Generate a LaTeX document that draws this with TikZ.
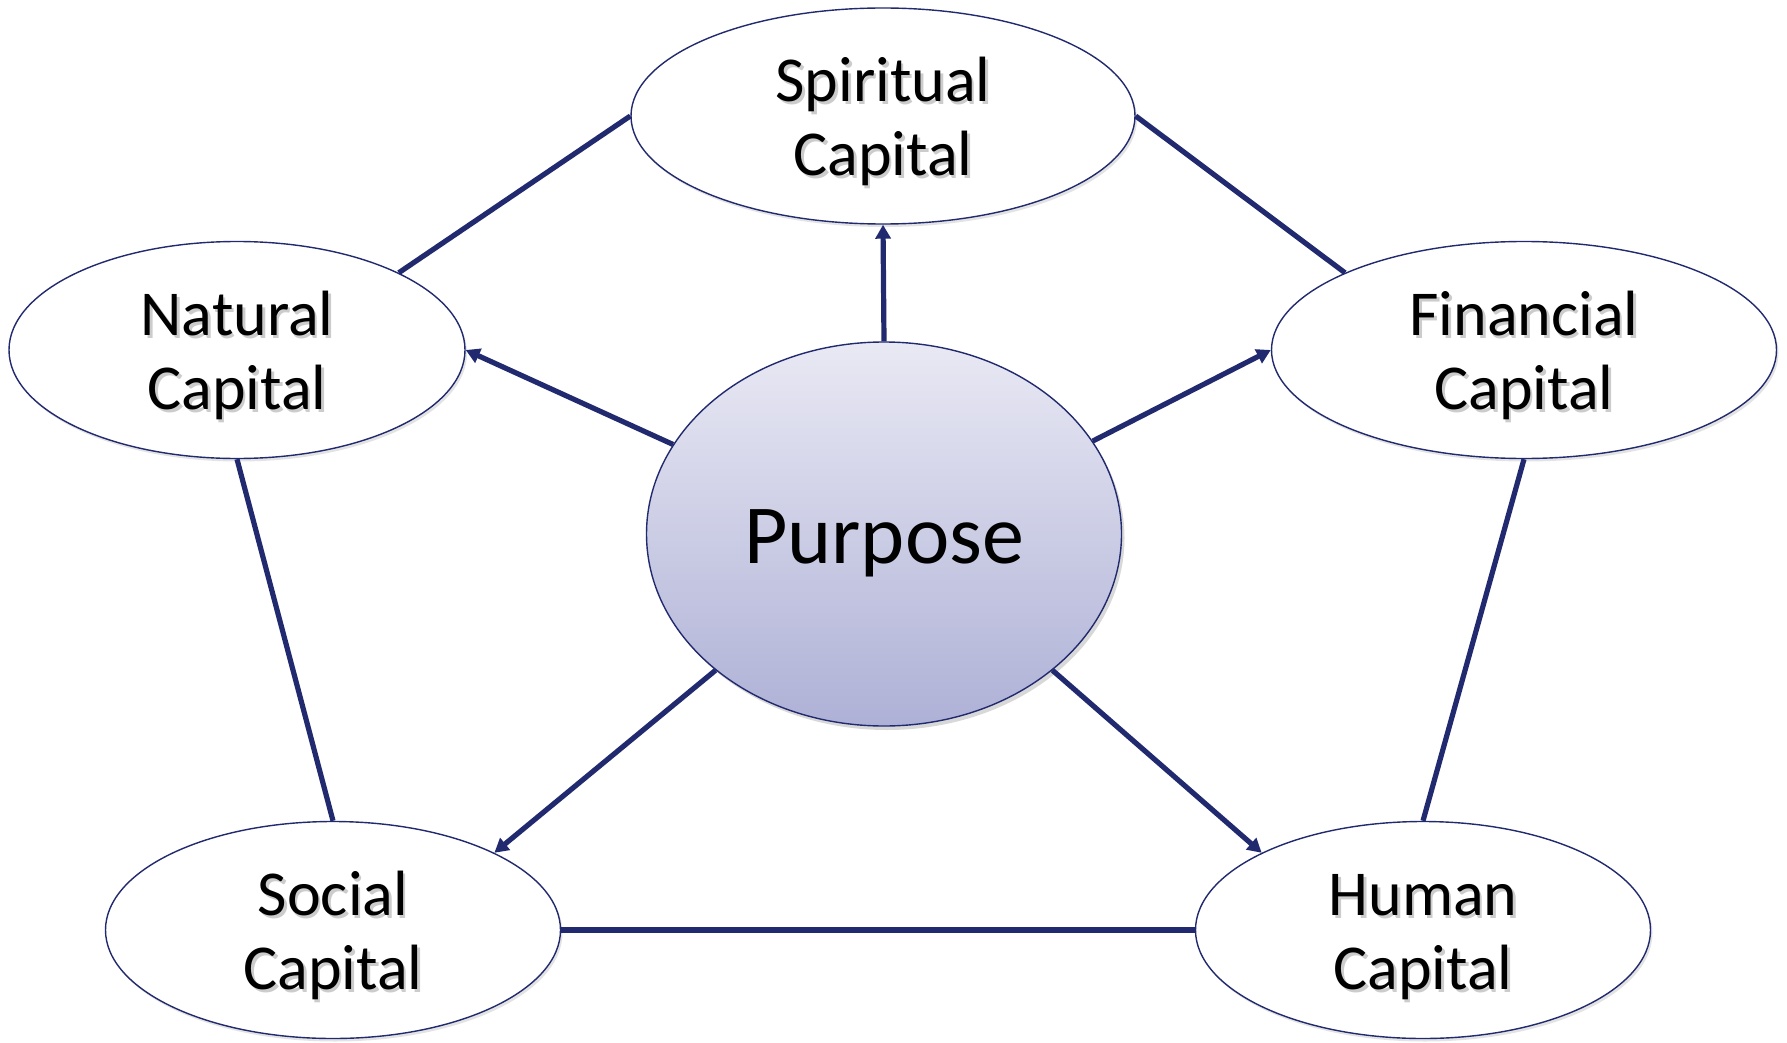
\documentclass[tikz,border=0pt]{standalone}
\usepackage{fontspec}
\setmainfont{Carlito}
\usetikzlibrary{arrows.meta,shapes.geometric,shadows}
\definecolor{navy}{HTML}{222A6F}
\definecolor{ptop}{HTML}{E9E9F4}
\definecolor{pbot}{HTML}{AEB1D6}
\newcommand\shd[1]{\leavevmode\rlap{\color{black!20}\kern1.3pt\raisebox{-1.3pt}{#1}}#1}
\newcommand\lbl[2]{\raisebox{-4pt}[\height][\depth]{\begin{tabular}{@{}c@{}}\shd{#1}\\\shd{#2}\end{tabular}}}
\begin{document}
\begin{tikzpicture}[x=0.5pt,y=-0.5pt,
  capbox/.style={ellipse, draw=navy, line width=0.7pt, fill=white, inner sep=0pt,
    font=\fontsize{32}{37}\selectfont,
    drop shadow={opacity=0.22, shadow xshift=1pt, shadow yshift=-1.5pt}},
  purbox/.style={ellipse, draw=navy, line width=0.7pt, top color=ptop, bottom color=pbot,
    inner sep=0pt, font=\fontsize{42}{48}\selectfont,
    drop shadow={opacity=0.3, shadow xshift=1.5pt, shadow yshift=-2pt}},
  conn/.style={draw=navy, line width=2.6pt},
  arr/.style={conn, -{Triangle[length=7pt,width=7.5pt]}}]
\useasboundingbox (0,0) rectangle (1787,1043);
\fill[white] (0,0) rectangle (1787,1043);
\node[capbox, minimum width=252pt, minimum height=108pt] (sp) at (883,116) {\lbl{Spiritual}{Capital}};
\node[capbox, minimum width=228pt, minimum height=108.5pt] (na) at (237,350) {\lbl{Natural}{Capital}};
\node[capbox, minimum width=252.5pt, minimum height=108.5pt] (fi) at (1524,350) {\lbl{Financial}{Capital}};
\node[capbox, minimum width=227.5pt, minimum height=108.5pt] (so) at (333,930) {\lbl{Social}{Capital}};
\node[capbox, minimum width=227.5pt, minimum height=108.5pt] (hu) at (1423,930) {\lbl{Human}{Capital}};
\node[purbox, minimum width=237.5pt, minimum height=192pt] (pu) at (884,534) {\raisebox{-4.5pt}[\height][\depth]{Purpose}};
\draw[conn] (na.north east) -- (sp.west);
\draw[conn] (sp.east) -- (fi.north west);
\draw[conn] (na.south) -- (so.north);
\draw[conn] (fi.south) -- (hu.north);
\draw[conn] (so.east) -- (hu.west);
\draw[arr] (pu.north) -- (sp.south);
\draw[arr] (pu.157) -- (na.east);
\draw[arr] (pu.24) -- (fi.west);
\draw[arr] (pu.south west) -- (so.north east);
\draw[arr] (pu.south east) -- (hu.north west);
\end{tikzpicture}
\end{document}
